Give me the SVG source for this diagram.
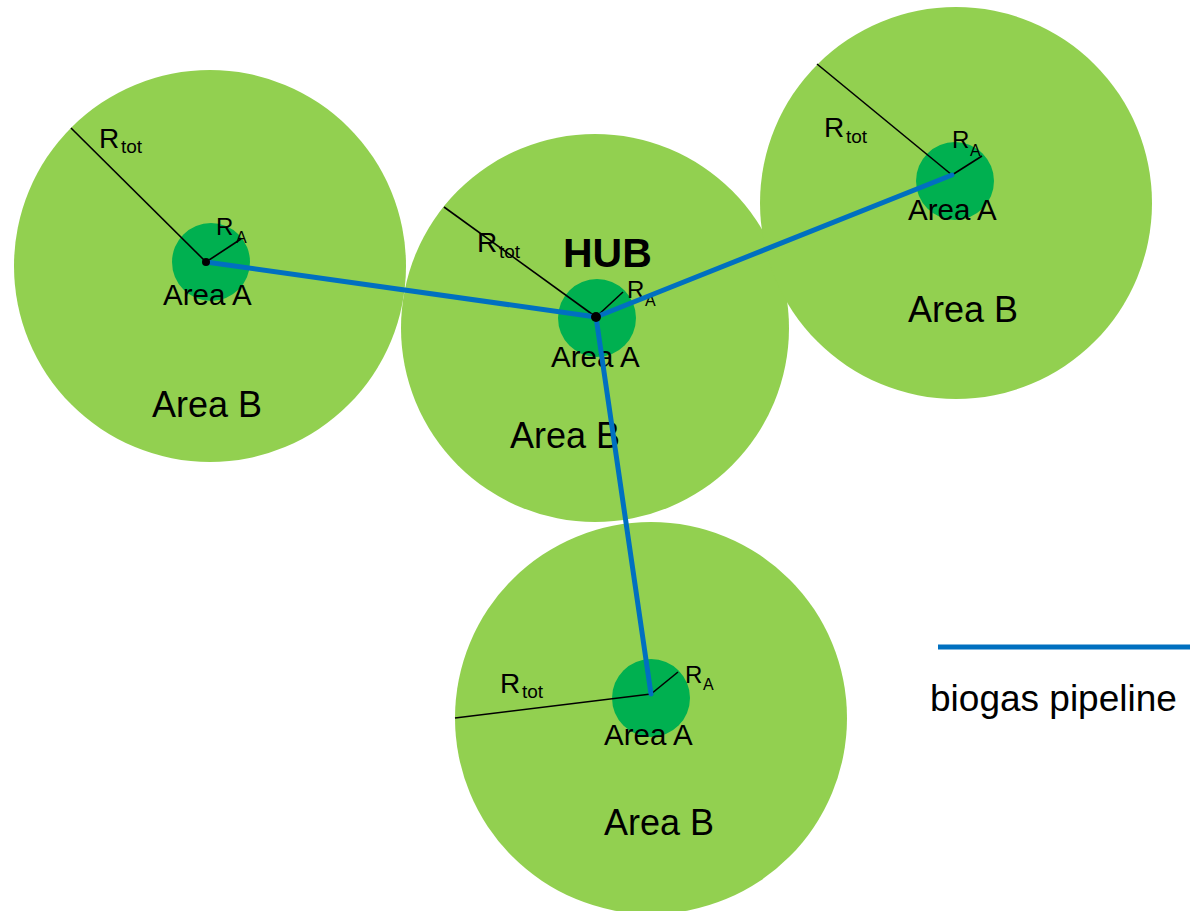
<svg xmlns="http://www.w3.org/2000/svg" width="1190" height="911" viewBox="0 0 1190 911">
<style>
.big{fill:#92D050}
.small{fill:#00B050}
.rad{stroke:#000;stroke-width:1.6;fill:none}
.pipe{stroke:#0070C0;stroke-width:5;fill:none;stroke-linecap:round}
text{font-family:"Liberation Sans",Arial,sans-serif;fill:#000}
.r{font-size:28px}
.ra{font-size:24px}
.sub{font-size:19px}
.suba{font-size:16px}
.aa{font-size:29.5px}
.ab{font-size:36px}
.hub{font-size:41px;font-weight:bold}
.leg{font-size:37px}
</style>
<rect width="1190" height="911" fill="#fff"/>
<g id="circle-left">
<circle class="big" cx="210" cy="266" r="196"/>
<circle class="small" cx="211" cy="262" r="39"/>
<line class="rad" x1="71" y1="128" x2="206" y2="262"/>
<line class="rad" x1="206" y1="262" x2="241" y2="239"/>
<text x="99" y="148" class="r">R</text><text x="121" y="153" class="sub">tot</text>
<text x="216" y="235" class="ra">R</text><text x="236" y="243" class="suba">A</text>
<text x="163" y="305" class="aa">Area A</text>
<text x="152" y="417" class="ab">Area B</text>
</g>
<g id="circle-hub">
<circle class="big" cx="595" cy="328" r="194"/>
<circle class="small" cx="597" cy="318" r="39"/>
<line class="rad" x1="444" y1="207" x2="596" y2="317"/>
<line class="rad" x1="596" y1="317" x2="623" y2="292"/>
<text x="477" y="252" class="r">R</text><text x="499" y="258" class="sub">tot</text>
<text x="563" y="267" class="hub">HUB</text>
<text x="627" y="298" class="ra">R</text><text x="645" y="306" class="suba">A</text>
<text x="551" y="367" class="aa">Area A</text>
<text x="510" y="448" class="ab">Area B</text>
</g>
<g id="circle-topright">
<circle class="big" cx="956" cy="203" r="196"/>
<circle class="small" cx="955" cy="181" r="39"/>
<line class="rad" x1="817" y1="64" x2="952" y2="175"/>
<line class="rad" x1="952" y1="175" x2="982" y2="156"/>
<text x="824" y="137" class="r">R</text><text x="846" y="143" class="sub">tot</text>
<text x="952" y="148" class="ra">R</text><text x="970" y="156" class="suba">A</text>
<text x="908" y="220" class="aa">Area A</text>
<text x="908" y="322" class="ab">Area B</text>
</g>
<g id="circle-bottom">
<circle class="big" cx="651" cy="718" r="196"/>
<circle class="small" cx="651" cy="698" r="39"/>
<line class="rad" x1="455" y1="718" x2="651" y2="694"/>
<line class="rad" x1="651" y1="694" x2="678" y2="672"/>
<text x="500" y="693" class="r">R</text><text x="522" y="698" class="sub">tot</text>
<text x="685" y="683" class="ra">R</text><text x="703" y="690" class="suba">A</text>
<text x="604" y="745" class="aa">Area A</text>
<text x="604" y="835" class="ab">Area B</text>
</g>
<g id="connectors">
<line class="pipe" x1="596" y1="317" x2="206" y2="262"/>
<line class="pipe" x1="596" y1="317" x2="952" y2="175"/>
<line class="pipe" x1="596" y1="317" x2="651" y2="694"/>
<circle cx="206" cy="262" r="4" fill="#000"/>
<circle cx="596" cy="317" r="5" fill="#000"/>
</g>
<g id="legend">
<line x1="938" y1="647" x2="1190" y2="647" stroke="#0070C0" stroke-width="5"/>
<text x="930" y="711" class="leg">biogas pipeline</text>
</g>
</svg>
